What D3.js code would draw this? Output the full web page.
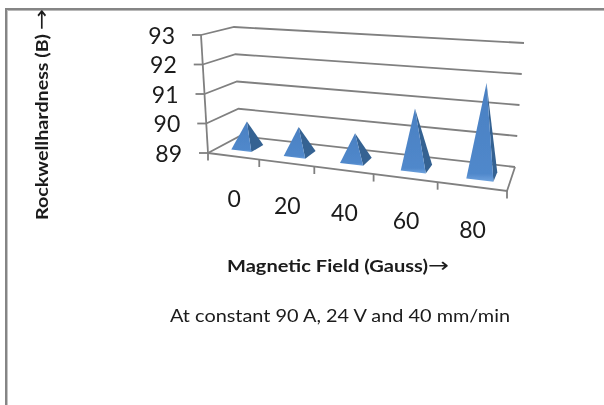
<!DOCTYPE html>
<html><head><meta charset="utf-8">
<script src="https://cdnjs.cloudflare.com/ajax/libs/d3/7.8.5/d3.min.js"></script>
<style>html,body{margin:0;padding:0;background:#fff}svg{display:block}text{font-family:Lato,"Open Sans",sans-serif;fill:#1a1a1a}</style>
</head><body><svg id="c" width="604" height="405"></svg>
<script>
const categories = ["0","20","40","60","80"];
const hardness = [89.9, 89.9, 89.9, 90.9, 91.9];
const valueTicks = [89, 90, 91, 92, 93];
const xTitle = "Magnetic Field (Gauss)";
const yTitle = "Rockwellhardness (B)";
const caption = "At constant 90 A, 24 V and 40 mm/min";

function homography(p00, p10, p11, p01) {
  const dx1 = p10[0]-p11[0], dx2 = p01[0]-p11[0], sx = p00[0]-p10[0]+p11[0]-p01[0];
  const dy1 = p10[1]-p11[1], dy2 = p01[1]-p11[1], sy = p00[1]-p10[1]+p11[1]-p01[1];
  const det = dx1*dy2-dx2*dy1;
  const g = (sx*dy2-dx2*sy)/det, h = (dx1*sy-sx*dy1)/det;
  const a = p10[0]-p00[0]+g*p10[0], b = p01[0]-p00[0]+h*p01[0], c = p00[0];
  const d = p10[1]-p00[1]+g*p10[1], e = p01[1]-p00[1]+h*p01[1], f = p00[1];
  return (u, w) => { const q = g*u+h*w+1; return [(a*u+b*w+c)/q, (d*u+e*w+f)/q]; };
}
const floorAt = homography([208,153],[507,191],[515,167],[240,136]);
const topAt   = homography([201,35],[518,57],[524,43],[234,27]);
const catScale = d3.scaleLinear().domain([0, categories.length]).range([0, 1]);
const valScale = d3.scaleLinear().domain([89, 93]).range([0, 1]);
const barScale = d3.scaleLinear().domain([0, 4]).range([0.28, 4.37]);
function proj(c, w, v) {
  const a = floorAt(catScale(c), w), b = topAt(catScale(c), w), t = valScale(v);
  return [a[0]+(b[0]-a[0])*t, a[1]+(b[1]-a[1])*t];
}
const svg = d3.select("#c");
const defs = svg.append("defs");
defs.append("filter").attr("id","soft").attr("x","-5%").attr("y","-5%").attr("width","110%").attr("height","110%")
  .append("feGaussianBlur").attr("stdDeviation",0.45);
const gf = defs.append("linearGradient").attr("id","front").attr("x1",0).attr("x2",0).attr("y1",0).attr("y2",1);
gf.append("stop").attr("offset","0%").attr("stop-color","#4a80c2");
gf.append("stop").attr("offset","92%").attr("stop-color","#5088cb");
gf.append("stop").attr("offset","100%").attr("stop-color","#6fa3de");

svg.append("rect").attr("x",5).attr("y",8).attr("width",599).attr("height",2).attr("fill","#858585");
svg.append("rect").attr("x",5).attr("y",10).attr("width",599).attr("height",1).attr("fill","#b8b8b8");
svg.append("rect").attr("x",5).attr("y",8).attr("width",2).attr("height",397).attr("fill","#858585");
svg.append("rect").attr("x",7).attr("y",10).attr("width",1).attr("height",395).attr("fill","#c4c4c4");

const g = svg.append("g").attr("filter","url(#soft)");
const line = d3.line();
const n = categories.length;
const stroke = {fill:"none",stroke:"#808080","stroke-width":1.8};
function path(pts){ const p = g.append("path").attr("d",line(pts)); Object.entries(stroke).forEach(([k,v])=>p.attr(k,v)); return p; }

valueTicks.forEach(v => {
  path([proj(0,0,v), proj(0,1,v), proj(n,1,v)]);
  const a = proj(0,0,v);
  path([[a[0]-9,a[1]], a]);
});
path([proj(0,0,89), proj(0,0,93)]);
path([proj(0,0,89), proj(n,0,89), proj(n,1,89)]);
d3.range(0,n+1).forEach(i => { const a = proj(i,0,89); path([a,[a[0],a[1]+7.5]]); });

const barW = 0.40, w0 = 0.28, w1 = 0.68;
hardness.forEach((v,i) => {
  const s = barScale(i);
  const fl = proj(s,w0,89), fr = proj(s+barW,w0,89), rb = proj(s+barW,w1,89);
  const apex = proj(s+barW/2+0.03,(w0+w1)/2,v);
  g.append("path").attr("d",line([fr,rb,apex])+"Z").attr("fill","#356292");
  g.append("path").attr("d",line([fl,fr,apex])+"Z").attr("fill","url(#front)");
});

const t = svg.append("g").attr("filter","url(#soft)");
valueTicks.forEach(v => {
  const a = proj(0,0,v);
  t.append("text").text(v).attr("x",a[0]-26).attr("y",a[1]+8.5).attr("text-anchor","end").attr("font-size",23);
});
categories.forEach((c,i) => {
  const a = proj(i+0.5,0,89);
  t.append("text").text(c).attr("x",a[0]+1).attr("y",a[1]+51).attr("text-anchor","middle").attr("font-size",23);
});
t.append("text").text(xTitle).attr("x",227).attr("y",272).attr("font-size",17.5).attr("font-weight",700)
  .attr("textLength",201).attr("lengthAdjust","spacingAndGlyphs");
t.append("text").text("→").attr("x",428).attr("y",272).attr("font-size",20).attr("fill","#555").style("font-family","DejaVu Sans").attr("textLength",21).attr("lengthAdjust","spacingAndGlyphs");
t.append("text").text(caption).attr("x",170).attr("y",322).attr("font-size",17.5)
  .attr("textLength",340).attr("lengthAdjust","spacingAndGlyphs");
t.append("text").text(yTitle).attr("transform","translate(48,220) rotate(-90)").attr("font-size",17.5).attr("font-weight",700)
  .attr("textLength",186).attr("lengthAdjust","spacingAndGlyphs");
t.append("text").text("→").attr("transform","translate(48,30) rotate(-90)").attr("font-size",20).style("font-family","DejaVu Sans").attr("textLength",21).attr("lengthAdjust","spacingAndGlyphs");
</script></body></html>
